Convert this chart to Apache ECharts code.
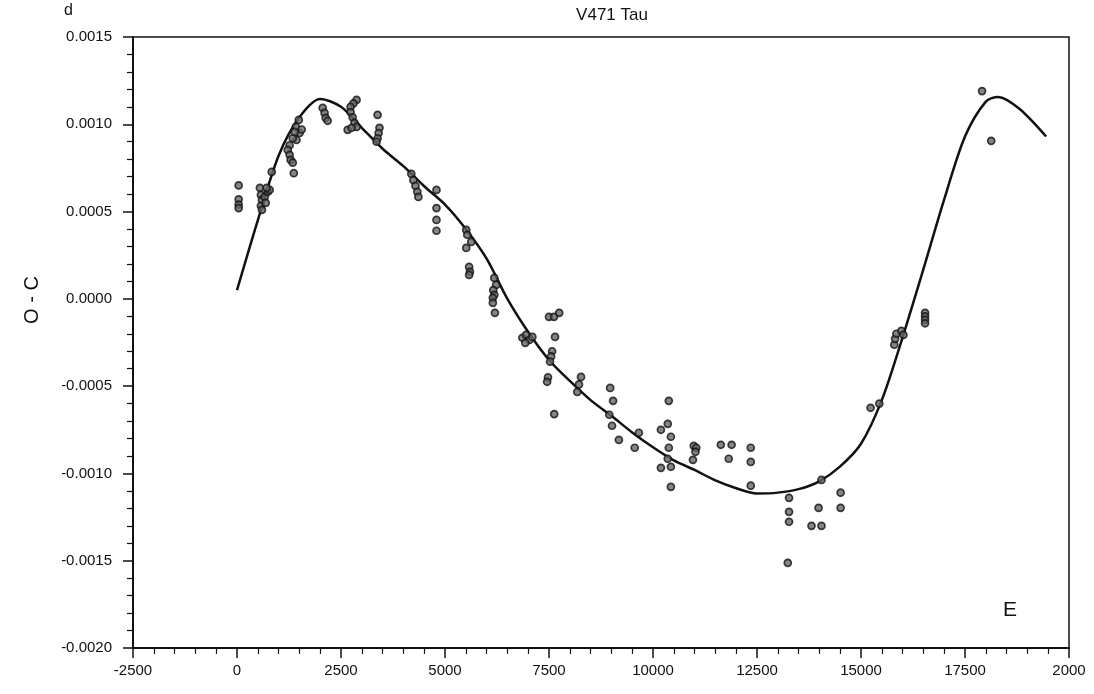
<!DOCTYPE html>
<html>
<head>
<meta charset="utf-8">
<script src="https://cdn.jsdelivr.net/npm/echarts@6/dist/echarts.min.js"></script>
<style>
html,body{margin:0;padding:0;background:#fff;}
#chart{width:1094px;height:694px;}
</style>
</head>
<body>
<div id="chart"></div>
<script>
// Observed O-C points (cycle number E, O-C in days)
const obsE = [
  40,40,40,40,
  550,575,600,575,600,665,690,740,785,835,715,
  1485,1415,1505,1430,1340,1265,1220,1265,1290,1340,1365,1555,1390,
  2060,2105,2130,2180,
  2875,2800,2730,2730,2780,2825,2875,2660,2755,
  3380,3425,3405,3380,3355,
  4190,4240,4290,4335,4360,
  4795,4795,4795,4795,
  5510,5535,5630,5510,5580,5600,5580,
  6185,6230,6160,6185,6150,6150,6200,
  6860,6950,7030,6930,7100,
  7500,7620,7745,7645,7575,7550,7525,7475,7455,7625,
  8270,8220,8180,
  8970,9040,8950,9015,
  9180,
  9560,9660,
  10380,10355,10190,10430,10380,10355,10190,10430,10430,
  10980,11040,11020,10960,
  11630,11890,11820,
  12350,12350,12350,
  13270,13270,13270,13240,
  13810,14050,13980,14050,
  14510,14510,
  15230,15440,
  15800,15820,15850,15970,16020,
  16540,16540,16540,16540,
  17910,18130
];
const obsOC = [
  0.00065,0.00057,0.00054,0.00052,
  0.000636,0.000596,0.000567,0.000533,0.00051,0.000584,0.00055,0.000613,0.000624,0.000727,0.000636,
  0.001025,0.000985,0.00095,0.00091,0.00092,0.00088,0.000853,0.000825,0.000796,0.00078,0.00072,0.00097,0.000956,
  0.001094,0.001065,0.001037,0.00102,
  0.00114,0.00112,0.0011,0.00107,0.00104,0.001008,0.000985,0.000968,0.00098,
  0.001054,0.00098,0.00095,0.00092,0.0009,
  0.000716,0.00068,0.000647,0.000613,0.000584,
  0.000624,0.00052,0.000452,0.00039,
  0.000395,0.000367,0.000326,0.000292,0.000183,0.000155,0.000137,
  0.00012,0.00008,0.00005,0.000023,0.000006,-0.000023,-0.00008,
  -0.000223,-0.000206,-0.000235,-0.000252,-0.000218,
  -0.000103,-0.000103,-0.00008,-0.000218,-0.0003,-0.00033,-0.00036,-0.00045,-0.000475,-0.00066,
  -0.000447,-0.00049,-0.000533,
  -0.00051,-0.000584,-0.000664,-0.000727,
  -0.000808,
  -0.000853,-0.000767,
  -0.000584,-0.000716,-0.00075,-0.00079,-0.000853,-0.000916,-0.000968,-0.000962,-0.001077,
  -0.000842,-0.000853,-0.000876,-0.000922,
  -0.000836,-0.000836,-0.000916,
  -0.000853,-0.000934,-0.00107,
  -0.00114,-0.00122,-0.001277,-0.001512,
  -0.0013,-0.0013,-0.001197,-0.001037,
  -0.00111,-0.001197,
  -0.000624,-0.0006,
  -0.000263,-0.000229,-0.0002,-0.000183,-0.000206,
  -0.00008,-0.0001,-0.00012,-0.00014,
  0.00119,0.000905
];
// Fitted curve
const fitE = [0,500,1000,1500,2000,2500,3000,3500,4000,4500,5000,5500,6000,6500,7000,7500,8000,8500,9000,9500,10000,10500,11000,11500,12000,12500,13000,13500,14000,14500,15000,15500,16000,16500,17000,17500,18000,18300,18800,19450];
const fitOC = [0.00005,0.00045,0.00082,0.00104,0.001145,0.0011,0.00098,0.00086,0.00076,0.000645,0.00054,0.0004,0.00023,0.0,-0.00019,-0.00035,-0.00047,-0.00058,-0.00067,-0.000765,-0.00085,-0.000925,-0.00098,-0.00104,-0.001085,-0.001115,-0.00111,-0.00109,-0.001045,-0.00096,-0.00083,-0.00058,-0.00022,0.00017,0.00057,0.00093,0.00113,0.001157,0.00109,0.00093];
// Tick labels
const xTickValues = [-2500,0,2500,5000,7500,10000,12500,15000,17500,20000];
const xTickLabels = ['-2500','0','2500','5000','7500','10000','12500','15000','17500','2000'];
const yTickValues = [-0.002,-0.0015,-0.001,-0.0005,0,0.0005,0.001,0.0015];
const yTickLabels = ['-0.0020','-0.0015','-0.0010','-0.0005','0.0000','0.0005','0.0010','0.0015'];
const titleText = 'V471 Tau';
const yName = 'O - C';
const yUnit = 'd';
const xName = 'E';

const FONT = '"Liberation Sans",Arial,sans-serif';
const chart = echarts.init(document.getElementById('chart'), null, {renderer:'canvas'});

function labelFor(vals, labels, v){
  for (let i=0;i<vals.length;i++){ if (Math.abs(vals[i]-v) < 1e-9) return labels[i]; }
  return '';
}

chart.setOption({
  animation:false,
  backgroundColor:'#fff',
  title:{
    text:titleText, left:607, top:2, textAlign:'center',
    textStyle:{fontFamily:FONT, fontSize:17, fontWeight:'normal', color:'#111'}
  },
  grid:{left:133, right:25, top:37, bottom:46, show:true, borderColor:'#111', borderWidth:1.5, backgroundColor:'transparent'},
  xAxis:{
    type:'value', min:-2500, max:20000, interval:2500,
    axisLine:{show:true, onZero:false, lineStyle:{color:'#111', width:2}},
    axisTick:{show:true, length:10, inside:false, lineStyle:{color:'#111', width:1.5}},
    minorTick:{show:true, splitNumber:5, length:6, lineStyle:{color:'#111', width:1.2}},
    splitLine:{show:false},
    axisLabel:{margin:15, color:'#111', fontSize:15, fontFamily:FONT,
      formatter:(v)=>labelFor(xTickValues, xTickLabels, v)}
  },
  yAxis:{
    type:'value', min:-0.002, max:0.0015, interval:0.0005,
    axisLine:{show:true, onZero:false, lineStyle:{color:'#111', width:2}},
    axisTick:{show:true, length:10, inside:false, lineStyle:{color:'#111', width:1.5}},
    minorTick:{show:true, splitNumber:5, length:6, lineStyle:{color:'#111', width:1.2}},
    splitLine:{show:false},
    axisLabel:{margin:21, color:'#111', fontSize:15, fontFamily:FONT,
      formatter:(v)=>labelFor(yTickValues, yTickLabels, v)}
  },
  graphic:[
    {type:'text', left:64, top:3, style:{text:yUnit, font:'16px "Liberation Sans", Arial, sans-serif', fill:'#111'}},
    {type:'text', x:32, y:300, rotation:Math.PI/2, style:{text:yName, font:'20px "Liberation Sans", Arial, sans-serif', fill:'#111', align:'center', verticalAlign:'middle'}},
    {type:'text', left:1003, top:600, style:{text:xName, font:'21px "Liberation Sans", Arial, sans-serif', fill:'#111'}}
  ],
  series:[
    {
      type:'line', data:fitE.map((e,i)=>[e,fitOC[i]]), smooth:0.3, showSymbol:false, symbol:'none',
      lineStyle:{color:'#111', width:2.5}, z:2
    },
    {
      type:'scatter', data:obsE.map((e,i)=>[e,obsOC[i]]), symbol:'circle', symbolSize:7,
      itemStyle:{color:'#666', borderColor:'#111', borderWidth:1.7}, z:3
    }
  ]
});
</script>
</body>
</html>
